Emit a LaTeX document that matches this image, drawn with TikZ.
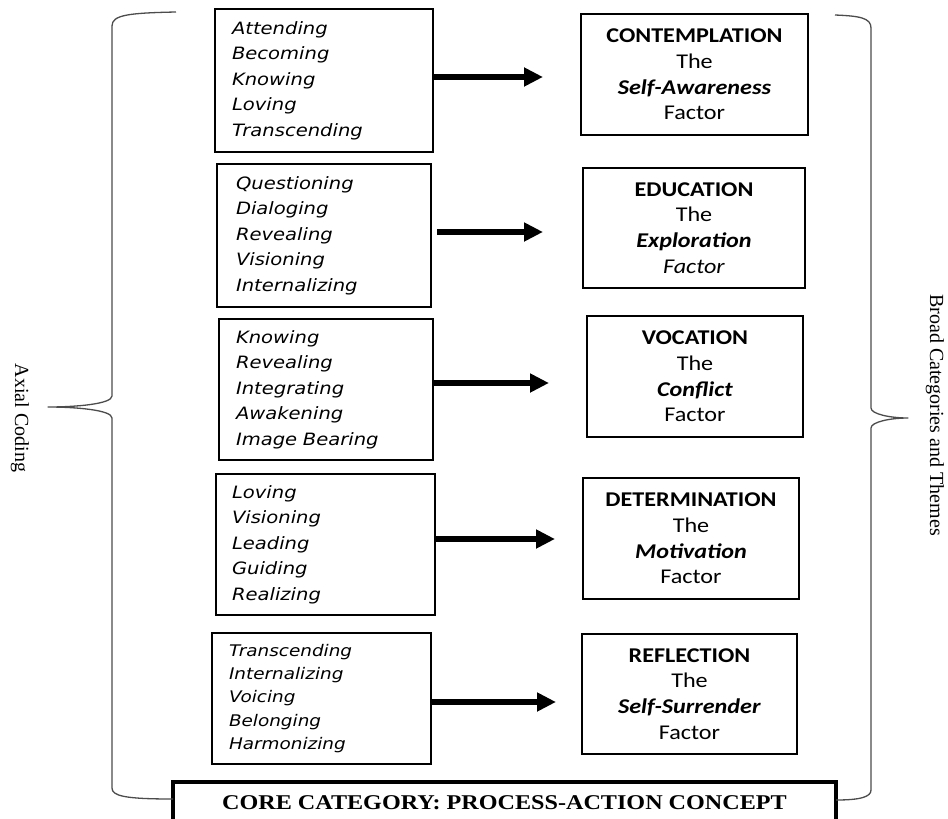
\documentclass[tikz,border=0pt]{standalone}
\usepackage{fontspec}
\usetikzlibrary{arrows.meta}
\newfontfamily\listfont[FakeStretch=1.15]{DejaVu Sans}
\newfontfamily\factorfont[FakeStretch=1.15]{Carlito}
\newfontfamily\sidefont{Liberation Serif}
\newfontfamily\corefont[FakeStretch=1.15]{Liberation Serif}

\tikzset{
  listbox/.style={draw, line width=2.4pt, rectangle, align=left, inner xsep=17pt, inner ysep=0pt,
    font=\listfont\itshape\fontsize{17}{25.5}\selectfont},
  factorbox/.style={draw, line width=2.4pt, rectangle, align=center, inner sep=0pt,
    font=\factorfont\fontsize{21}{25.7}\selectfont},
  corebox/.style={draw, line width=4pt, rectangle, inner sep=0pt,
    font=\corefont\bfseries\fontsize{21}{24}\selectfont},
  bigarrow/.style={line width=5.5pt, -{Triangle[length=19pt,width=18pt]}},
  brace/.style={line width=1.3pt, black!70, line join=round},
  sidelabel/.style={font=\sidefont\fontsize{20}{24}\selectfont, rotate=-90},
}

\begin{document}
\begin{tikzpicture}[x=1pt, y=-1pt]
  \useasboundingbox (0,0) rectangle (948,819);

  % left column
  \node[listbox, text width=184pt, minimum height=143pt] (l1) at (324,80.5)
    {Attending\\Becoming\\Knowing\\Loving\\Transcending};
  \node[listbox, inner xsep=19pt, text width=176pt, minimum height=143pt] (l2) at (324,235.5)
    {Questioning\\Dialoging\\Revealing\\Visioning\\Internalizing};
  \node[listbox, text width=180pt, minimum height=141pt] (l3) at (326,389.5)
    {Knowing\\Revealing\\Integrating\\Awakening\\Image Bearing};
  \node[listbox, inner xsep=16pt, text width=187pt, minimum height=141pt] (l4) at (325.5,544.5)
    {Loving\\Visioning\\Leading\\Guiding\\Realizing};
  \node[listbox, text width=185pt, minimum height=131pt,
    font=\listfont\itshape\fontsize{16}{23.2}\selectfont] (l5) at (321.5,698.5)
    {Transcending\\Internalizing\\Voicing\\Belonging\\Harmonizing};

  % right column
  \node[factorbox, minimum width=227pt, minimum height=121pt] (r1) at (694.5,74.5)
    {\textbf{CONTEMPLATION}\\The\\\textbf{\textit{Self-Awareness}}\\Factor};
  \node[factorbox, minimum width=222pt, minimum height=120pt] (r2) at (694,228)
    {\textbf{EDUCATION}\\The\\\textbf{\textit{Exploration}}\\\textit{Factor}};
  \node[factorbox, minimum width=216pt, minimum height=121pt] (r3) at (695,376.5)
    {\textbf{VOCATION}\\The\\\textbf{\textit{Conflict}}\\Factor};
  \node[factorbox, minimum width=216pt, minimum height=121pt] (r4) at (691,538.5)
    {\textbf{DETERMINATION}\\The\\\textbf{\textit{Motivation}}\\Factor};
  \node[factorbox, minimum width=215pt, minimum height=120pt] (r5) at (689.5,694)
    {\textbf{REFLECTION}\\The\\\textbf{\textit{Self-Surrender}}\\Factor};

  \node[corebox, minimum width=663pt, minimum height=42pt] (core) at (504.5,803)
    {CORE CATEGORY: PROCESS-ACTION CONCEPT};

  % arrows
  \coordinate (t1) at (543,77);
  \coordinate (s2) at (437,232);
  \coordinate (t2) at (543,232);
  \coordinate (t3) at (549,383);
  \coordinate (t4) at (555,539);
  \coordinate (t5) at (556,702);
  \draw[bigarrow] (l1.east |- t1) -- (t1);
  \draw[bigarrow] (s2) -- (t2);
  \draw[bigarrow] (l3.east |- t3) -- (t3);
  \draw[bigarrow] (l4.east |- t4) -- (t4);
  \draw[bigarrow] (l5.east |- t5) -- (t5);

  % braces
  \draw[brace] (176,12) .. controls (128,13) and (112,15) .. (112,26) -- (112,396)
    .. controls (112,404) and (76,407) .. (48,407)
    .. controls (76,407) and (112,410) .. (112,418) -- (112,788)
    .. controls (112,796) and (125,799) .. (173,799);
  \draw[brace] (835,15) .. controls (860,16) and (871,18) .. (871,28) -- (871,408)
    .. controls (871,414) and (890,418) .. (908,418)
    .. controls (890,418) and (871,422) .. (871,428) -- (871,790)
    .. controls (871,797) and (860,800) .. (836,800);

  \node[sidelabel] (axial) at (20,418) {Axial Coding};
  \node[sidelabel] (broad) at (935,415) {Broad Categories and Themes};
\end{tikzpicture}
\end{document}
